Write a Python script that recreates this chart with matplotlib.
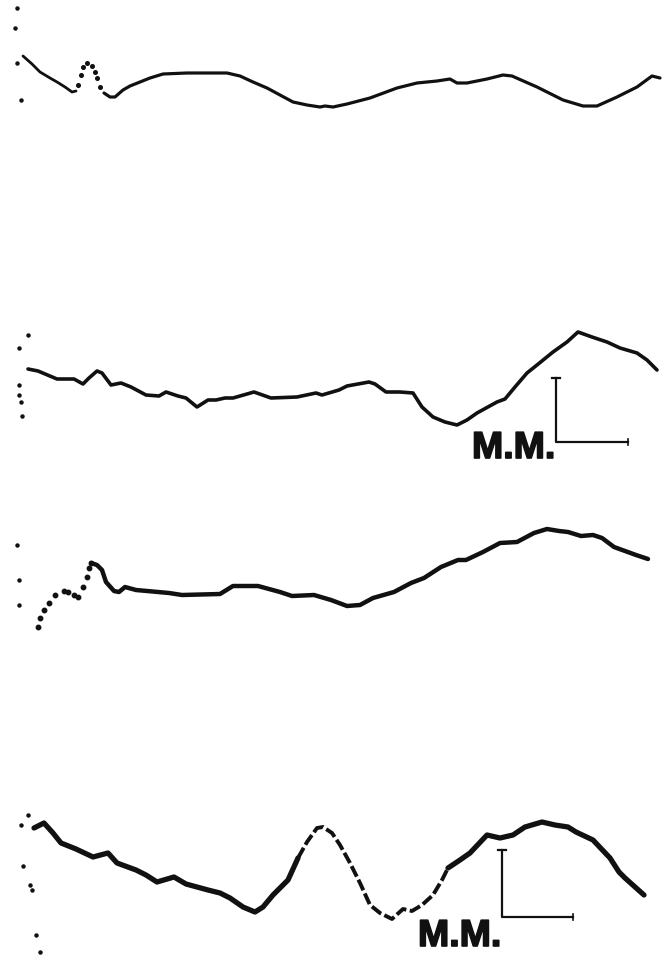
import matplotlib.pyplot as plt
import matplotlib.patheffects as pe

# traced recordings (x, y in image units, y down)
trace1_x = [23, 32, 40, 50, 57, 65, 72, 76]
trace1_y = [56, 64, 72, 78, 82, 87, 92, 91]
trace1_dot_x = [78, 81, 83, 87, 92, 95, 97, 100]
trace1_dot_y = [85, 75, 67, 63, 66, 72, 78, 87]
trace1b_x = [104, 110, 115, 123, 130, 140, 150, 163, 187, 210, 227, 240, 253, 267,
             280, 293, 307, 320, 325, 333, 347, 370, 397, 417, 437, 450, 457, 467,
             487, 503, 512, 537, 563, 583, 597, 617, 637, 652, 660]
trace1b_y = [93, 97, 97, 90, 86, 82, 78, 74, 73, 73, 73, 76, 82, 88,
             95, 102, 105, 107, 106, 107, 104, 98, 88, 83, 81, 79, 83, 83,
             79, 75, 76, 87, 100, 106, 106, 97, 87, 76, 78]
specks1_x = [17, 15, 17, 21]
specks1_y = [8, 28, 63, 100]

trace2_x = [28, 38, 57, 74, 83, 89, 97, 102, 111, 121, 131, 146, 159, 166, 178, 186,
            197, 208, 216, 225, 233, 254, 271, 297, 316, 322, 339, 347, 369, 375, 386,
            400, 413, 422, 433, 445, 457, 467, 477, 497, 505, 515, 527, 537, 553, 567,
            578, 592, 607, 620, 637, 647, 657]
trace2_y = [369, 371, 379, 379, 384, 378, 371, 373, 385, 383, 387, 395, 396, 392, 396, 398,
            407, 400, 400, 398, 398, 392, 398, 397, 393, 395, 390, 386, 382, 384, 392,
            392, 393, 407, 417, 422, 425, 420, 413, 402, 399, 387, 373, 365, 352, 342,
            332, 337, 342, 348, 353, 360, 370]
specks2_x = [28, 19, 19, 19, 21, 22]
specks2_y = [335, 348, 385, 395, 402, 416]

trace3_dot_x = [38, 40, 44, 49, 55, 64, 68, 74, 78, 83, 87, 89, 91]
trace3_dot_y = [627, 618, 610, 603, 595, 591, 592, 595, 597, 587, 577, 568, 563]
trace3_x = [91, 97, 102, 106, 114, 119, 125, 136, 169, 182, 220, 233, 258, 280, 292,
            314, 331, 347, 360, 373, 394, 411, 424, 441, 458, 466, 483, 500, 517, 534,
            547, 559, 568, 581, 593, 602, 614, 636, 648]
trace3_y = [563, 565, 570, 582, 591, 592, 587, 590, 593, 595, 594, 586, 586, 592, 596,
            595, 600, 606, 605, 598, 592, 583, 578, 567, 560, 560, 552, 543, 542, 533,
            529, 531, 532, 536, 535, 538, 547, 555, 559]
specks3_x = [17, 19, 19]
specks3_y = [545, 580, 605]

trace4_x = [34, 44, 53, 61, 76, 93, 108, 117, 136, 146, 157, 174, 186, 208, 220, 230,
            243, 255, 263, 273, 288, 298]
trace4_y = [828, 823, 833, 843, 849, 857, 853, 863, 870, 875, 882, 877, 884, 890, 893, 898,
            907, 912, 907, 895, 880, 858]
trace4_dash_x = [298, 307, 317, 323, 332, 340, 350, 360, 370, 380, 392, 403, 412, 422,
                 433, 442, 448]
trace4_dash_y = [858, 842, 828, 827, 833, 845, 863, 883, 905, 913, 919, 909, 911, 905,
                 895, 880, 868]
trace4b_x = [448, 460, 470, 487, 500, 513, 525, 542, 555, 568, 576, 593, 610, 619, 625, 644]
trace4b_y = [868, 860, 853, 835, 838, 835, 827, 822, 825, 827, 832, 840, 858, 872, 878, 895]
specks4_x = [28, 21, 23, 30, 32, 36, 40]
specks4_y = [815, 825, 866, 885, 890, 935, 952]

# calibration bars: (x corner, y top, y corner, x end) and label position
bars = [(556, 378, 442, 628, 472, 458), (502, 850, 917, 573, 418, 946)]
bar_label = "M.M."

fig = plt.figure(figsize=(6.67, 9.59), dpi=100)
ax = fig.add_axes([0, 0, 1, 1])
ax.set_xlim(0, 667)
ax.set_ylim(959, 0)
ax.axis("off")

ink = "#111111"
kw = dict(color=ink, solid_capstyle="round", solid_joinstyle="round")

ax.plot(trace1_x, trace1_y, lw=2.0, **kw)
ax.plot(trace1_dot_x, trace1_dot_y, ls="none", marker="o", ms=2.6, color=ink)
ax.plot(trace1b_x, trace1b_y, lw=2.3, **kw)

ax.plot(trace2_x, trace2_y, lw=2.6, **kw)

ax.plot(trace3_dot_x, trace3_dot_y, ls="none", marker="o", ms=3.2, color=ink)
ax.plot(trace3_x, trace3_y, lw=3.2, **kw)

ax.plot(trace4_x, trace4_y, lw=3.8, **kw)
ax.plot(trace4_dash_x, trace4_dash_y, lw=2.8, ls=(0, (3, 0.9)), color=ink)
ax.plot(trace4b_x, trace4b_y, lw=3.8, **kw)

for sx, sy in [(specks1_x, specks1_y), (specks2_x, specks2_y),
               (specks3_x, specks3_y), (specks4_x, specks4_y)]:
    ax.plot(sx, sy, ls="none", marker="o", ms=2.2, color=ink)

for xc, yt, yc, xe, tx, ty in bars:
    ax.plot([xc, xc, xe], [yt, yc, yc], lw=1.6, color=ink)
    ax.plot([xc - 4, xc + 4], [yt, yt], lw=1.6, color=ink)
    ax.plot([xe, xe], [yc - 3, yc + 3], lw=1.2, color=ink)
    ax.text(tx, ty, bar_label, fontsize=27, fontweight="bold",
            family=["Liberation Sans", "DejaVu Sans"], color=ink,
            ha="left", va="baseline",
            path_effects=[pe.withStroke(linewidth=1.2, foreground=ink)])

fig.savefig("out.png", dpi=100, facecolor="white")
